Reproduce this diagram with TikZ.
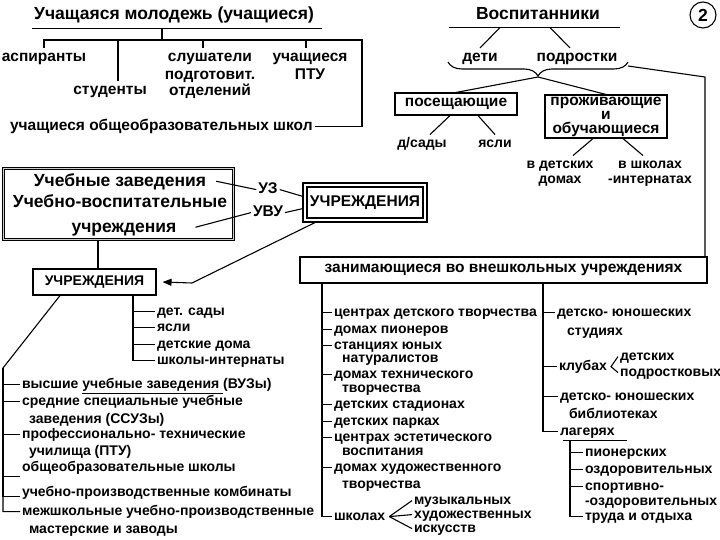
\documentclass[tikz,border=0pt]{standalone}
\usepackage{fontspec}
\setmainfont{Liberation Sans}
\usetikzlibrary{arrows.meta,decorations.pathreplacing}
\newcommand\fttl{\fontsize{17.5}{20}\selectfont\bfseries}
\newcommand\flbl{\fontsize{15.5}{13.5}\selectfont\bfseries}
\newcommand\fitm{\fontsize{14}{16}\selectfont\bfseries}
\begin{document}
\begin{tikzpicture}[x=1pt,y=-1pt,line width=1.1pt]
  \tikzstyle{every node}=[inner sep=1.5pt]
  \tikzstyle{ttl}=[font=\fttl,text height=14pt,text depth=3.5pt,anchor=base,yshift=-4.5pt]
  \tikzstyle{lbl}=[font=\flbl,text height=12pt,text depth=3.2pt,anchor=base,yshift=-4pt]
  \tikzstyle{itm}=[font=\fitm,text height=11pt,text depth=3pt,anchor=base,yshift=-3.6pt]
  \tikzstyle{arr}=[-{Triangle[length=9pt,width=7pt]}]
  \useasboundingbox (0,0) rectangle (720,540);

  \node[ttl] (uchm) at (174,15) {Учащаяся молодежь (учащиеся)};
  \node[lbl] (asp) at (44,58) {аспиранты};
  \node[lbl] (stud) at (110,91) {студенты};
  \node[lbl] (sl1) at (210,58) {слушатели};
  \node[lbl] (sl2) at (210,76) {подготовит.};
  \node[lbl] (sl3) at (210,92) {отделений};
  \node[lbl] (ptu1) at (310,58) {учащиеся};
  \node[lbl] (ptu2) at (310,76) {ПТУ};
  \node[lbl,anchor=base west] (obsh) at (8,127) {учащиеся общеобразовательных школ};
  \coordinate (hl) at (362,40);
  \draw ([yshift=-3.5pt]uchm.south west) -- ([xshift=6.5pt,yshift=-3.5pt]uchm.south east);
  \draw ([xshift=-12pt,yshift=-3.5pt]uchm.south) |- (hl);
  \draw (asp.north) |- (hl) |- (obsh.east);
  \draw ([xshift=8pt]stud.north) |- (hl);
  \draw ([xshift=-7pt]sl1.north) |- (hl);
  \draw ([xshift=-4pt]ptu1.north) |- (hl);

  \node[ttl] (vosp) at (538,15) {Воспитанники};
  \node[draw,circle,minimum size=26,inner sep=0pt,font=\fttl] (num) at (703,15) {2};
  \node[lbl] (deti) at (480,58) {дети};
  \node[lbl] (podr) at (577,58) {подростки};
  \node[draw,minimum width=122,minimum height=22,font=\flbl] (posesh) at (456,104) {посещающие};
  \node[draw,minimum width=122,minimum height=43,align=center,font=\fontsize{15.5}{14}\selectfont\bfseries] (prozh) at (606,116.5) {проживающие\\и\\обучающиеся};
  \node[itm] (dsad) at (422,144) {д/сады};
  \node[itm] (yasl) at (495,144) {ясли};
  \node[itm] (vdet1) at (560,165) {в детских};
  \node[itm] (vdet2) at (560,180) {домах};
  \node[itm] (vshk1) at (650,165) {в школах};
  \node[itm] (vshk2) at (650,180) {-интернатах};
  \draw ([xshift=-25pt,yshift=-2.5pt]vosp.south west) -- ([xshift=18.5pt,yshift=-2.5pt]vosp.south east);
  \draw ([xshift=-38pt,yshift=-2.5pt]vosp.south) -- (deti.north);
  \draw ([xshift=12pt,yshift=-2.5pt]vosp.south) -- ([xshift=-7pt]podr.north);
  \draw[decorate,decoration={brace,amplitude=14pt}] (628,62) -- (448,62);
  \coordinate (tip) at (538,77);
  \draw (tip) -- (posesh.north);
  \draw (tip) -- (prozh.north);
  \draw ([xshift=-6pt]posesh.south) -- ([xshift=8pt]dsad.north);
  \draw ([xshift=22pt]posesh.south) -- (yasl.north);
  \draw ([xshift=-13pt]prozh.south) -- ([xshift=13pt]vdet1.north);
  \draw ([xshift=17pt]prozh.south) -- ([xshift=-7pt]vshk1.north);

  \node[draw,double=gray!40,double distance=1pt,minimum width=230,minimum height=71] (ubox) at (118.5,204) {};
  \node[ttl] (ub1) at (120,182) {Учебные заведения};
  \node[ttl] (ub2) at (120,203) {Учебно-воспитательные};
  \node[ttl] (ub3) at (124,228) {учреждения};
  \node[lbl] (uz) at (268,190) {УЗ};
  \node[lbl] (uvu) at (268,213) {УВУ};
  \node[draw,minimum width=116,minimum height=31,font=\flbl] (uchr) at (365,202.5) {УЧРЕЖДЕНИЯ};
  \draw[line width=2.6pt] ([xshift=-3.3pt,yshift=3.3pt]uchr.north west) rectangle ([xshift=3.3pt,yshift=-3.3pt]uchr.south east);
  \node[draw,minimum width=123,minimum height=26,font=\fitm] (uch2) at (94.5,282) {УЧРЕЖДЕНИЯ};
  \draw ([xshift=8pt]ub1.east) -- (uz.west);
  \draw (uz.east) -- ([xshift=-3.3pt,yshift=6pt]uchr.west);
  \draw ([xshift=17pt]ub3.east) -- (uvu.west);
  \draw (uvu.east) -- ([xshift=-3.3pt,yshift=-6pt]uchr.west);
  \coordinate (bend2) at (192,283);
  \draw[arr] ([xshift=10pt,yshift=-3.3pt]uchr.south west) -- (bend2) -- ([xshift=6pt]uch2.east);
  \coordinate (lv) at (98,0);
  \draw (ubox.south -| lv) -- (uch2.north -| lv);

  \node[itm,anchor=base west] (sh1) at (155,312) {дет. сады};
  \node[itm,anchor=base west] (sh2) at (155,328) {ясли};
  \node[itm,anchor=base west] (sh3) at (155,345) {детские дома};
  \node[itm,anchor=base west] (sh4) at (155,361) {школы-интернаты};
  \coordinate (bs) at (133,0);
  \foreach \n in {sh1,sh2,sh3,sh4} \draw (uch2.south -| bs) |- (\n.west);

  \node[itm,anchor=base west] (vu1) at (20,385) {высшие \underline{учебные заведения\ }(ВУЗы)};
  \node[itm,anchor=base west] (vu2) at (20,402) {средние специальные учебные};
  \node[itm,anchor=base west] (vu2b) at (27,420) {заведения (ССУЗы)};
  \node[itm,anchor=base west] (vu3) at (20,435) {профессионально- технические};
  \node[itm,anchor=base west] (vu3b) at (27,452) {училища (ПТУ)};
  \node[itm,anchor=base west] (vu4) at (20,468) {общеобразовательные школы};
  \node[itm,anchor=base west] (vu5) at (20,493) {учебно-производственные комбинаты};
  \node[itm,anchor=base west] (vu6) at (20,512) {межшкольные учебно-производственные};
  \node[itm,anchor=base west] (vu6b) at (27,530) {мастерские и заводы};
  \coordinate (lc) at (3,368);
  \draw ([xshift=-34.5pt]uch2.south) -- (lc) |- (vu6.west);
  \foreach \n in {vu1,vu2,vu3} \draw (lc) |- (\n.west);
  \draw (lc) |- ([yshift=-9pt]vu4.west);
  \draw (lc) |- ([yshift=-4pt]vu5.west);

  \node[draw,minimum width=407,minimum height=26,font=\flbl] (zan) at (503.5,270) {занимающиеся во внешкольных учреждениях};
  \coordinate (bend) at (705,77);
  \draw (628,66) -- (bend) -- (bend |- zan.north);

  \node[itm,anchor=base west] (z1) at (332,313) {центрах детского творчества};
  \node[itm,anchor=base west] (z2) at (332,330) {домах пионеров};
  \node[itm,anchor=base west] (z3) at (332,346) {станциях юных};
  \node[itm,anchor=base west] (z3b) at (340,359) {натуралистов};
  \node[itm,anchor=base west] (z4) at (332,375) {домах технического};
  \node[itm,anchor=base west] (z4b) at (340,389) {творчества};
  \node[itm,anchor=base west] (z5) at (332,405) {детских стадионах};
  \node[itm,anchor=base west] (z6) at (332,422) {детских парках};
  \node[itm,anchor=base west] (z7) at (332,438) {центрах эстетического};
  \node[itm,anchor=base west] (z7b) at (340,452) {воспитания};
  \node[itm,anchor=base west] (z8) at (332,468) {домах художественного};
  \node[itm,anchor=base west] (z8b) at (340,485) {творчества};
  \node[itm,anchor=base west] (z9) at (332,517) {школах};
  \node[itm,anchor=base west] (m1) at (412,501) {музыкальных};
  \node[itm,anchor=base west] (m2) at (412,515) {художественных};
  \node[itm,anchor=base west] (m3) at (412,529) {искусств};
  \coordinate (ls) at (322,0);
  \foreach \n in {z1,z2,z3,z4,z5,z6,z7,z8,z9} \draw (zan.south -| ls) |- (\n.west);
  \foreach \n in {m1,m2,m3} \draw ([xshift=2pt]z9.east) -- (\n.west);

  \node[itm,anchor=base west] (r1) at (555,313) {детско- юношеских};
  \node[itm,anchor=base west] (r1b) at (565,332) {студиях};
  \node[itm,anchor=base west] (r2) at (557,367) {клубах};
  \node[itm,anchor=base west] (k1) at (618,357) {детских};
  \node[itm,anchor=base west] (k2) at (618,373) {подростковых};
  \node[itm,anchor=base west] (r3) at (558,397) {детско- юношеских};
  \node[itm,anchor=base west] (r3b) at (567,415) {библиотеках};
  \node[itm,anchor=base west] (r4) at (558,432) {лагерях};
  \coordinate (rs) at (543,0);
  \foreach \n in {r1,r2,r3,r4} \draw (zan.south -| rs) |- (\n.west);
  \draw (k1.west) -- ([xshift=2pt]r2.east) -- (k2.west);
  \draw ([xshift=5pt]r4.south west) -- ([xshift=10pt]r4.south east);

  \node[itm,anchor=base west] (l1) at (583,453) {пионерских};
  \node[itm,anchor=base west] (l2) at (583,470) {оздоровительных};
  \node[itm,anchor=base west] (l3) at (583,487) {спортивно-};
  \node[itm,anchor=base west] (l3b) at (583,502) {-оздоровительных};
  \node[itm,anchor=base west] (l4) at (583,517) {труда и отдыха};
  \coordinate (ks) at (570,0);
  \foreach \n in {l1,l2,l3,l4} \draw (r4.south -| ks) |- (\n.west);
\end{tikzpicture}
\end{document}
